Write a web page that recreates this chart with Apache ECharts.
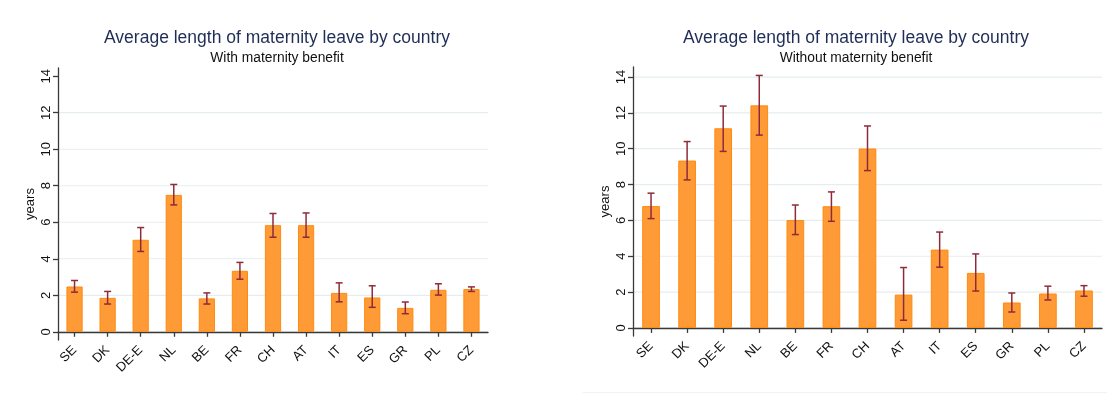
<!DOCTYPE html>
<html>
<head>
<meta charset="utf-8">
<script src="https://cdn.jsdelivr.net/npm/echarts@6/dist/echarts.min.js"></script>
<style>
  html, body { margin: 0; padding: 0; background: #fff; }
  #chart { width: 1107px; height: 394px; }
</style>
</head>
<body>
<div id="chart"></div>
<script>
// Country codes along the x axis
const countries = ['SE', 'DK', 'DE-E', 'NL', 'BE', 'FR', 'CH', 'AT', 'IT', 'ES', 'GR', 'PL', 'CZ'];
const yTicks = [0, 2, 4, 6, 8, 10, 12, 14];

// With maternity benefit: mean years and confidence interval bounds
const withMean  = [2.48, 1.86, 5.04, 7.50, 1.83, 3.34, 5.84, 5.84, 2.13, 1.88, 1.31, 2.30, 2.34];
const withLow   = [2.17, 1.52, 4.40, 6.95, 1.52, 2.88, 5.18, 5.18, 1.64, 1.34, 0.99, 2.01, 2.21];
const withHigh  = [2.81, 2.21, 5.71, 8.07, 2.13, 3.80, 6.48, 6.51, 2.68, 2.52, 1.63, 2.63, 2.46];

// Without maternity benefit
const withoutMean = [6.80, 9.34, 11.14, 12.42, 6.02, 6.79, 10.01, 1.86, 4.37, 3.07, 1.42, 1.92, 2.09];
const withoutLow  = [6.10, 8.26, 9.85, 10.76, 5.21, 5.95, 8.78, 0.43, 3.39, 2.06, 0.89, 1.56, 1.77];
const withoutHigh = [7.52, 10.40, 12.38, 14.09, 6.86, 7.59, 11.27, 3.37, 5.35, 4.13, 1.95, 2.33, 2.36];

const FONT = '"Liberation Sans", Arial, Helvetica, sans-serif';
const AXIS_COL = '#3a3a3a';
const GRID_COL = '#e6edf1';

function yAxisFor(gridIndex, max) {
  return {
    type: 'value', gridIndex: gridIndex, min: -0.45, max: max,
    name: 'years', nameLocation: 'middle', nameGap: 21, nameRotate: 90,
    nameTextStyle: { fontFamily: FONT, fontSize: 13, color: '#111' },
    axisLine: { show: true, lineStyle: { color: AXIS_COL, width: 1.3 } },
    axisTick: { show: true, length: 5, customValues: yTicks, lineStyle: { color: AXIS_COL, width: 1.3 } },
    axisLabel: { customValues: yTicks, rotate: 90, margin: 5, fontFamily: FONT, fontSize: 13, color: '#111' },
    splitLine: { show: false }
  };
}

function xAxisFor(gridIndex) {
  return {
    type: 'category', gridIndex: gridIndex, data: countries,
    axisLine: { show: true, lineStyle: { color: AXIS_COL, width: 1.3 } },
    axisTick: { show: true, alignWithLabel: true, length: 5, lineStyle: { color: AXIS_COL, width: 1.3 } },
    axisLabel: { rotate: 45, margin: 8, fontFamily: FONT, fontSize: 13, color: '#111', interval: 0 }
  };
}

// Horizontal reference lines at the labelled y values, spanning the plot width
function gridLines(xi, yi, values) {
  return {
    type: 'custom', xAxisIndex: xi, yAxisIndex: yi, silent: true, z: 0,
    data: values.map(v => [v]),
    renderItem: function (params, api) {
      const y = api.coord([0, api.value(0)])[1];
      const cs = params.coordSys;
      return {
        type: 'line',
        shape: { x1: cs.x + 1, y1: y, x2: cs.x + cs.width, y2: y },
        style: { stroke: GRID_COL, lineWidth: 1.2 }
      };
    }
  };
}

function bars(xi, yi, values) {
  return {
    type: 'bar', xAxisIndex: xi, yAxisIndex: yi, data: values, barWidth: '49%', z: 2,
    itemStyle: { color: '#ff9b36', borderColor: '#ff8a10', borderWidth: 1 }
  };
}

function errorBars(xi, yi, low, high) {
  return {
    type: 'custom', xAxisIndex: xi, yAxisIndex: yi, z: 3,
    data: low.map((l, i) => [i, l, high[i]]),
    renderItem: function (params, api) {
      const lo = api.coord([api.value(0), api.value(1)]);
      const hi = api.coord([api.value(0), api.value(2)]);
      const half = 3.5;
      const st = { stroke: '#8e2b3b', lineWidth: 1.5 };
      return {
        type: 'group',
        children: [
          { type: 'line', shape: { x1: lo[0], y1: lo[1], x2: hi[0], y2: hi[1] }, style: st },
          { type: 'line', shape: { x1: lo[0] - half, y1: lo[1], x2: lo[0] + half, y2: lo[1] }, style: st },
          { type: 'line', shape: { x1: hi[0] - half, y1: hi[1], x2: hi[0] + half, y2: hi[1] }, style: st }
        ]
      };
    }
  };
}

const chart = echarts.init(document.getElementById('chart'), null, { renderer: 'canvas' });
chart.setOption({
  backgroundColor: '#fff',
  animation: false,
  title: [
    { text: 'Average length of maternity leave by country', subtext: 'With maternity benefit',
      left: 272, top: 24, textAlign: 'center', itemGap: 4,
      textStyle: { fontFamily: FONT, fontSize: 17.5, fontWeight: 'normal', color: '#1f2d57' },
      subtextStyle: { fontFamily: FONT, fontSize: 13.8, color: '#111' } },
    { text: 'Average length of maternity leave by country', subtext: 'Without maternity benefit',
      left: 851, top: 24, textAlign: 'center', itemGap: 4,
      textStyle: { fontFamily: FONT, fontSize: 17.5, fontWeight: 'normal', color: '#1f2d57' },
      subtextStyle: { fontFamily: FONT, fontSize: 13.8, color: '#111' } }
  ],
  grid: [
    { left: 58, right: 619, top: 68, bottom: 54 },
    { left: 633, right: 5, top: 67, bottom: 58 }
  ],
  xAxis: [xAxisFor(0), xAxisFor(1)],
  yAxis: [yAxisFor(0, 14.45), yAxisFor(1, 14.56)],
  series: [
    gridLines(0, 0, [0, 2, 4, 6, 8, 10, 12]),
    gridLines(1, 1, yTicks),
    bars(0, 0, withMean),
    errorBars(0, 0, withLow, withHigh),
    bars(1, 1, withoutMean),
    errorBars(1, 1, withoutLow, withoutHigh)
  ],
  graphic: [
    { type: 'line', shape: { x1: 583, y1: 392.5, x2: 1107, y2: 392.5 }, style: { stroke: '#f0f2f4', lineWidth: 1 } }
  ]
});
</script>
</body>
</html>
